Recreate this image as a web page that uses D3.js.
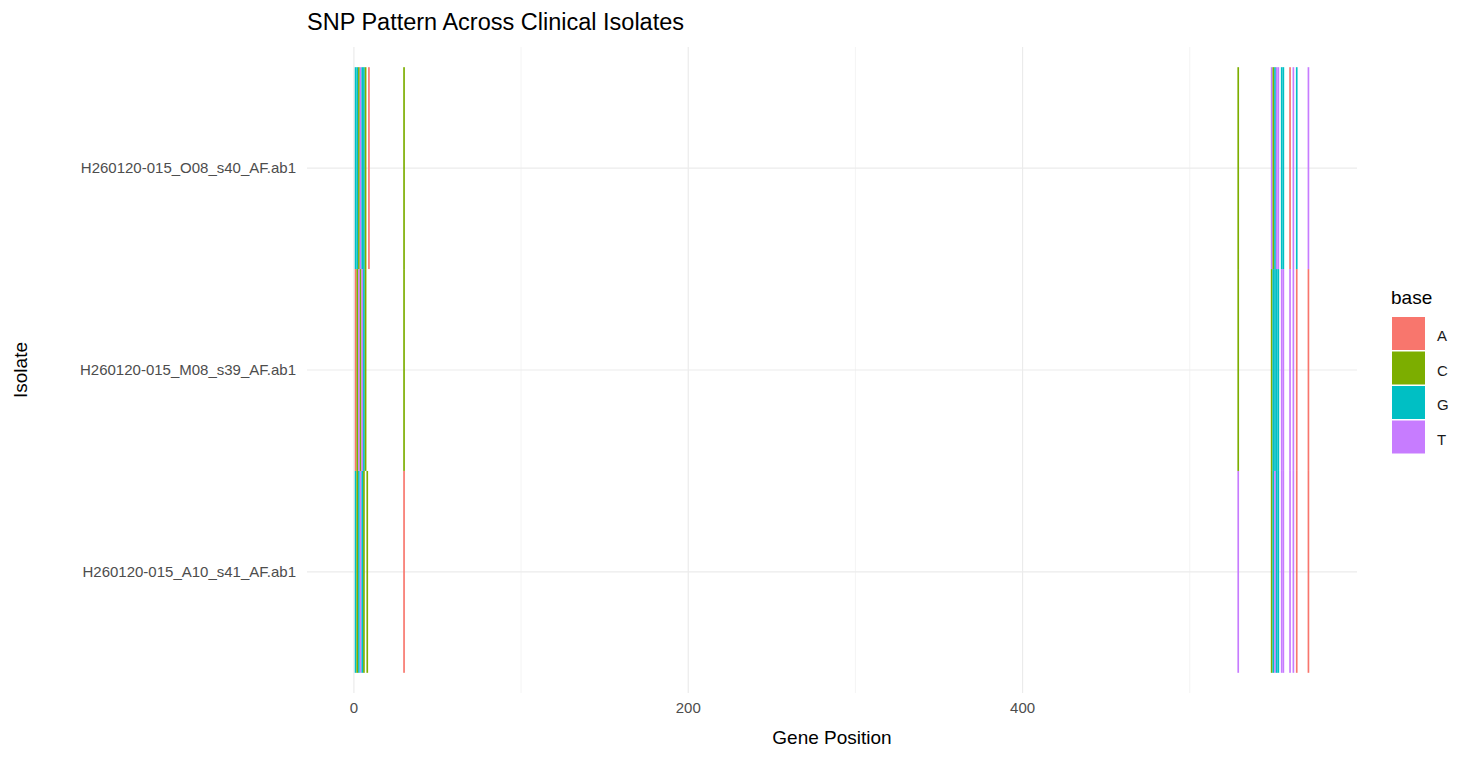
<!DOCTYPE html>
<html><head><meta charset="utf-8">
<script src="https://cdn.jsdelivr.net/npm/d3@7"></script>
<style>body{margin:0;background:#fff;font-family:Arial,"Liberation Sans",sans-serif}</style>
</head><body><svg id="c" width="1473" height="759"></svg>
<script>
const isolates = ["H260120-015_A10_s41_AF.ab1", "H260120-015_M08_s39_AF.ab1", "H260120-015_O08_s40_AF.ab1"];
const bases = ["A", "C", "G", "T"];
const baseColors = ["#F8766D", "#7CAE00", "#00BFC4", "#C77CFF"];
const xTicks = [0, 200, 400];
// SNP calls per isolate: [position, base]
const snpA10 = [[1,"G"],[2,"C"],[3,"G"],[4,"T"],[5,"G"],[6,"C"],[8,"C"],[30,"A"],[529,"T"],
  [549,"C"],[550,"G"],[551,"T"],[552,"G"],[553,"G"],[555,"T"],[556,"T"],[560,"T"],[562,"T"],[564,"A"],[571,"A"]];
const snpM08 = [[1,"A"],[2,"C"],[3,"T"],[4,"C"],[5,"T"],[6,"G"],[7,"C"],[30,"C"],[529,"C"],
  [549,"C"],[550,"G"],[551,"G"],[552,"G"],[553,"G"],[555,"T"],[556,"T"],[560,"T"],[562,"T"],[564,"A"],[571,"A"]];
const snpO08 = [[1,"G"],[2,"G"],[3,"C"],[4,"T"],[5,"G"],[6,"G"],[7,"C"],[9,"A"],[30,"C"],[529,"C"],
  [549,"T"],[550,"C"],[551,"G"],[552,"T"],[553,"T"],[555,"G"],[556,"G"],[560,"A"],[562,"T"],[564,"G"],[571,"T"]];

const rows = [];
[snpA10, snpM08, snpO08].forEach((s, i) => s.forEach(d => rows.push({iso: isolates[i], pos: d[0], base: d[1]})));

const svg = d3.select("#c");
const L = 307, R = 1357, T = 47, B = 693;
const x = d3.scaleLinear().domain([-28.05, 600.05]).range([L, R]);
const y = d3.scaleBand().domain(isolates.slice().reverse()).range([T, B]).paddingOuter(0.1).paddingInner(0);
const color = d3.scaleOrdinal().domain(bases).range(baseColors);

// grid
const g = svg.append("g");
[100, 300, 500].forEach(v => g.append("line").attr("x1", x(v)).attr("x2", x(v)).attr("y1", T).attr("y2", B).attr("stroke", "#ebebeb").attr("stroke-width", 0.6));
xTicks.forEach(v => g.append("line").attr("x1", x(v)).attr("x2", x(v)).attr("y1", T).attr("y2", B).attr("stroke", "#ebebeb").attr("stroke-width", 1.2));
isolates.forEach(d => g.append("line").attr("x1", L).attr("x2", R).attr("y1", y(d) + y.bandwidth() / 2).attr("y2", y(d) + y.bandwidth() / 2).attr("stroke", "#ebebeb").attr("stroke-width", 1.2));

svg.append("g").selectAll("rect").data(rows).join("rect")
  .attr("x", d => x(d.pos - 0.5)).attr("width", x(1) - x(0))
  .attr("y", d => y(d.iso)).attr("height", y.bandwidth())
  .attr("fill", d => color(d.base));

// axes text
svg.append("g").selectAll("text").data(xTicks).join("text")
  .attr("x", d => x(d)).attr("y", 713).attr("text-anchor", "middle")
  .attr("font-size", 15).attr("fill", "#4d4d4d").text(d => d);
svg.append("g").selectAll("text").data(isolates).join("text")
  .attr("x", 296).attr("y", d => y(d) + y.bandwidth() / 2 + 5).attr("text-anchor", "end")
  .attr("font-size", 15).attr("fill", "#4d4d4d").text(d => d);
svg.append("text").attr("x", (L + R) / 2).attr("y", 744).attr("text-anchor", "middle").attr("font-size", 19).text("Gene Position");
svg.append("text").attr("transform", "translate(27,370) rotate(-90)").attr("text-anchor", "middle").attr("font-size", 19).text("Isolate");
svg.append("text").attr("x", 307).attr("y", 30).attr("font-size", 23.5).text("SNP Pattern Across Clinical Isolates");

// legend
const lg = svg.append("g").attr("transform", "translate(1391,0)");
lg.append("text").attr("x", 0).attr("y", 304).attr("font-size", 19).text("base");
bases.forEach((b, i) => {
  lg.append("rect").attr("x", 1).attr("y", 317 + i * 34.5).attr("width", 33).attr("height", 33).attr("fill", color(b));
  lg.append("text").attr("x", 46).attr("y", 341 + i * 34.5).attr("font-size", 15).attr("fill", "#1a1a1a").text(b);
});
</script></body></html>
